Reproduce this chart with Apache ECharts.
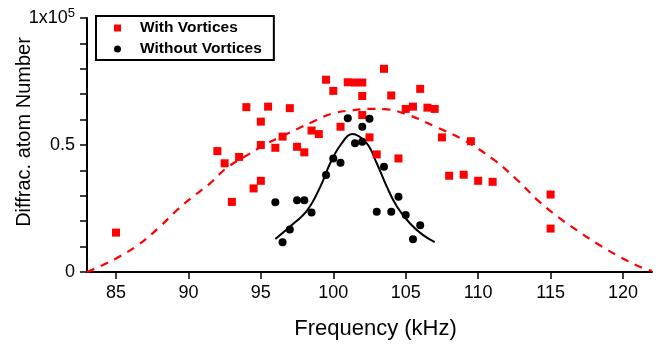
<!DOCTYPE html>
<html>
<head>
<meta charset="utf-8">
<script src="https://cdn.jsdelivr.net/npm/echarts@6/dist/echarts.min.js"></script>
<style>
  html, body { margin: 0; padding: 0; background: #fff; }
  #main { width: 660px; height: 349px; }
</style>
</head>
<body>
<div id="main"></div>
<script>
// values in units of 1x10^5 atoms, frequency in kHz
var withFreq = [85, 92, 92.5, 93, 93.5, 94, 94.5, 95, 95, 95, 95.5, 96, 96.5, 97, 97.5, 98, 98.5, 99, 99.5, 100,
  100.5, 101, 101.5, 102, 102, 102, 102.5, 103, 103.5, 104, 104.5, 105, 105.5, 106, 106.5, 107, 107.5, 108, 109,
  109.5, 110, 111, 115, 115];
var withVal = [0.155, 0.476, 0.428, 0.276, 0.453, 0.649, 0.329, 0.359, 0.50, 0.592, 0.651, 0.489, 0.533, 0.645,
  0.493, 0.471, 0.557, 0.543, 0.757, 0.713, 0.572, 0.747, 0.746, 0.746, 0.693, 0.618, 0.530, 0.463, 0.80, 0.695,
  0.447, 0.642, 0.651, 0.721, 0.647, 0.642, 0.530, 0.379, 0.383, 0.515, 0.359, 0.355, 0.305, 0.171];

var withoutFreq = [96, 96.5, 97, 97.5, 98, 98.5, 99.5, 100, 100.5, 101, 101.5, 102, 102, 102.5, 103, 103.5, 104,
  104.5, 105, 105.5, 106];
var withoutVal = [0.275, 0.117, 0.167, 0.282, 0.282, 0.234, 0.382, 0.447, 0.430, 0.605, 0.507, 0.572, 0.513,
  0.603, 0.237, 0.414, 0.237, 0.296, 0.224, 0.129, 0.184];

// fit curves
var fitWithFreq = [83, 84, 85, 86.5, 88, 89.2, 90.3, 91.5, 92.6, 94, 95.4, 96.3, 98.6, 100, 101.2, 102.5, 103.5,
  105.1, 107.2, 109, 111.1, 112.7, 114.1, 115.5, 116.8, 118.2, 119.8, 121.2, 122];
var fitWithVal = [0, 0.025, 0.053, 0.105, 0.177, 0.243, 0.296, 0.349, 0.408, 0.458, 0.505, 0.53, 0.592, 0.625,
  0.636, 0.642, 0.641, 0.62, 0.568, 0.52, 0.441, 0.362, 0.283, 0.217, 0.165, 0.112, 0.059, 0.02, 0.004];

var fitWithoutFreq = [96, 97, 98.2, 99.1, 99.8, 100.5, 101.3, 102.3, 103, 103.7, 104.4, 105.3, 106.2, 107];
var fitWithoutVal = [0.13, 0.178, 0.243, 0.335, 0.43, 0.50, 0.543, 0.507, 0.428, 0.335, 0.257, 0.191, 0.145, 0.118];

var xTicks = [85, 90, 95, 100, 105, 110, 115, 120];

function pairs(xs, ys) {
  var out = [];
  for (var i = 0; i < xs.length; i++) out.push([xs[i], ys[i]]);
  return out;
}

var chart = echarts.init(document.getElementById('main'));
var font = 'Liberation Sans, Arial, sans-serif';

var option = {
  animation: false,
  grid: { left: 87, right: 8, top: 18, bottom: 77, outerBoundsMode: 'none' },
  legend: {
    orient: 'vertical',
    left: 96,
    top: 16,
    data: ['With Vortices', 'Without Vortices'],
    borderColor: '#000',
    borderWidth: 2,
    borderRadius: 0,
    padding: [4, 12, 3, 18],
    itemGap: 5,
    itemWidth: 7,
    itemHeight: 7,
    textStyle: { fontFamily: font, fontSize: 15.5, fontWeight: 'bold', color: '#000', padding: [0, 0, 0, 14] }
  },
  xAxis: {
    type: 'value',
    min: 83,
    max: 122,
    name: 'Frequency (kHz)',
    nameLocation: 'middle',
    nameGap: 46,
    nameMoveOverlap: false,
    nameTextStyle: { fontFamily: font, fontSize: 22, color: '#000', padding: [0, 0, 0, 12] },
    axisLine: { lineStyle: { color: '#000', width: 2 } },
    axisTick: { show: true, customValues: xTicks, length: 7, inside: false, lineStyle: { color: '#000', width: 1.5 } },
    axisLabel: { customValues: xTicks, fontFamily: font, fontSize: 18, color: '#000', margin: 12 },
    splitLine: { show: false }
  },
  yAxis: {
    type: 'value',
    min: 0,
    max: 1,
    interval: 0.1,
    name: 'Diffrac. atom Number',
    nameLocation: 'middle',
    nameGap: 53,
    nameMoveOverlap: false,
    nameTextStyle: { fontFamily: font, fontSize: 20, color: '#000', padding: [0, 0, 0, 26] },
    axisLine: { show: true, lineStyle: { color: '#000', width: 2 } },
    axisTick: { show: true, length: 7, lineStyle: { color: '#000', width: 1.5 } },
    axisLabel: {
      fontFamily: font, fontSize: 18, color: '#000', margin: 12,
      formatter: function (v) {
        if (Math.abs(v) < 1e-9) return '0';
        if (Math.abs(v - 0.5) < 1e-9) return '0.5';
        if (Math.abs(v - 1) < 1e-9) return '1x10{sup|5}';
        return '';
      },
      rich: { sup: { fontFamily: font, fontSize: 13, color: '#000', verticalAlign: 'top', padding: [0, 0, 9, 0] } }
    },
    splitLine: { show: false }
  },
  series: [
    {
      name: 'With Vortices',
      type: 'scatter',
      symbol: 'rect',
      symbolSize: 8,
      itemStyle: { color: '#ff0000', opacity: 1 },
      data: pairs(withFreq, withVal),
      z: 3
    },
    {
      name: 'Without Vortices',
      type: 'scatter',
      symbol: 'circle',
      symbolSize: 8,
      itemStyle: { color: '#000', opacity: 1 },
      data: pairs(withoutFreq, withoutVal),
      z: 4
    },
    {
      name: 'fitWith',
      type: 'line',
      smooth: 0.4,
      showSymbol: false,
      lineStyle: { color: '#ff0000', width: 2.2, type: [8, 7] },
      data: pairs(fitWithFreq, fitWithVal),
      z: 2
    },
    {
      name: 'fitWithout',
      type: 'line',
      smooth: 0.4,
      showSymbol: false,
      lineStyle: { color: '#000', width: 2 },
      data: pairs(fitWithoutFreq, fitWithoutVal),
      z: 2
    }
  ]
};
chart.setOption(option);
</script>
</body>
</html>
